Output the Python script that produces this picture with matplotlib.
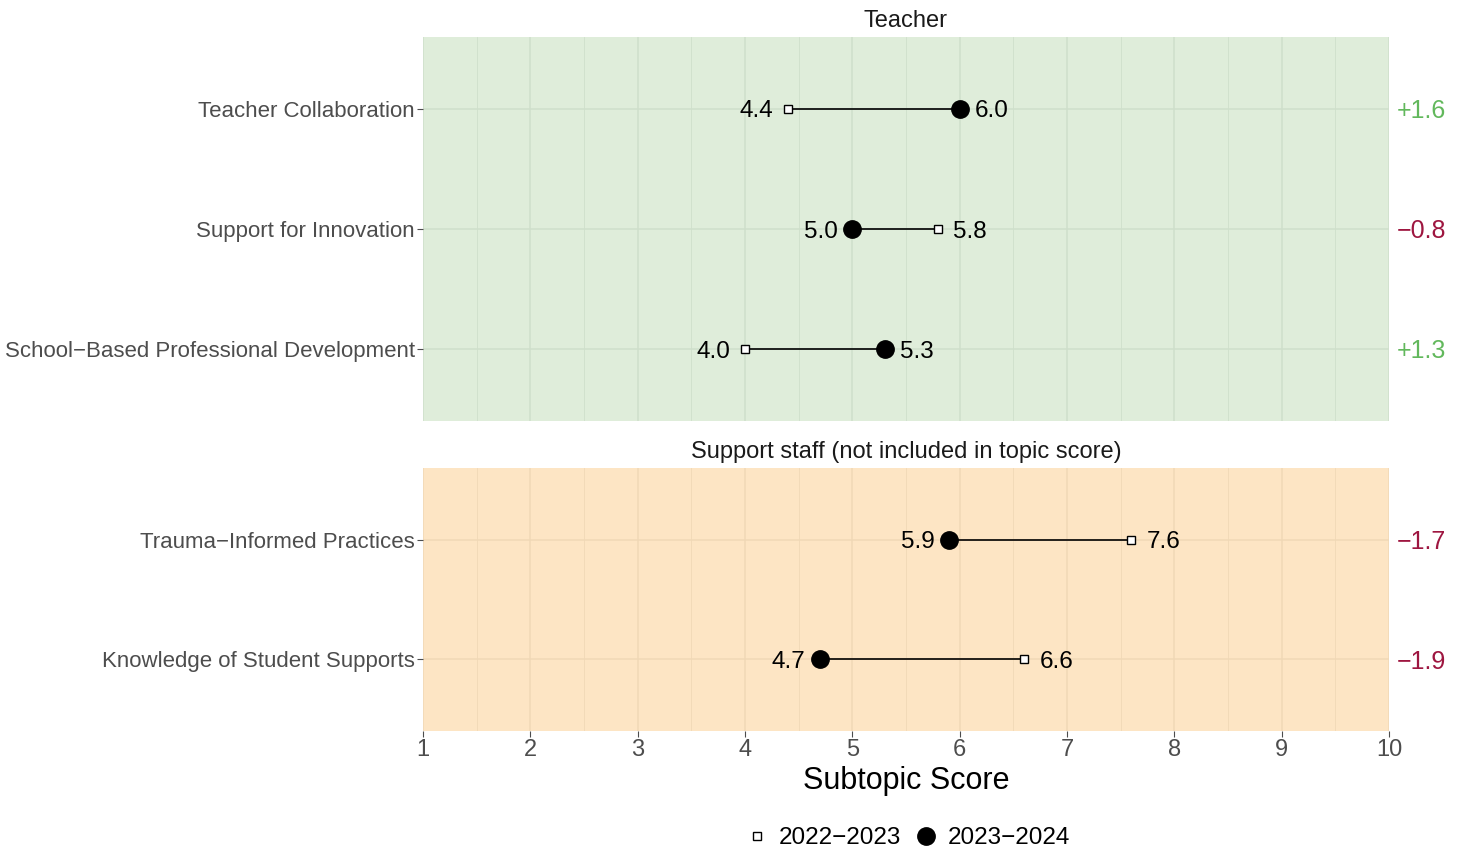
import matplotlib.pyplot as plt
from matplotlib.lines import Line2D

plt.rcParams['font.family'] = ['Liberation Sans', 'DejaVu Sans']

# data
teacher_items = ['Teacher Collaboration', 'Support for Innovation',
                 'School\u2212Based Professional Development']
teacher_prev = [4.4, 5.8, 4.0]
teacher_curr = [6.0, 5.0, 5.3]

staff_items = ['Trauma\u2212Informed Practices', 'Knowledge of Student Supports']
staff_prev = [7.6, 6.6]
staff_curr = [5.9, 4.7]

panel_titles = ['Teacher', 'Support staff (not included in topic score)']
legend_labels = ['2022\u22122023', '2023\u22122024']

green_bg = '#dfedda'
orange_bg = '#fde5c4'
green_txt = '#62b85c'
red_txt = '#9e1640'

fig = plt.figure(figsize=(14.63, 8.52), dpi=100)
L, R = 423 / 1463, 1389 / 1463
ax1 = fig.add_axes([L, 1 - 421 / 852, R - L, (421 - 37) / 852])
ax2 = fig.add_axes([L, 1 - 731 / 852, R - L, (731 - 468) / 852])


def draw_panel(ax, items, prev, curr, bg, gridc, title, show_x):
    n = len(items)
    ys = list(range(n, 0, -1))
    ax.set_facecolor(bg)
    ax.set_xlim(1, 10)
    ax.set_ylim(0.4, n + 0.6)
    ax.set_xticks(range(1, 11))
    ax.set_xticks([i + 0.5 for i in range(1, 10)], minor=True)
    ax.set_yticks(ys)
    ax.set_yticklabels(items, fontsize=16, color='#4d4d4d')
    ax.grid(True, which='major', color=gridc, lw=1.1, zorder=0)
    ax.grid(True, which='minor', axis='x', color=gridc, lw=0.6, zorder=0)
    ax.set_axisbelow(True)
    for s in ax.spines.values():
        s.set_visible(False)
    ax.tick_params(axis='y', length=4, color='#4d4d4d', width=0.8, pad=2)
    ax.tick_params(axis='x', which='minor', length=0)
    if show_x:
        ax.tick_params(axis='x', length=4, color='#4d4d4d', width=0.8,
                       labelsize=17, labelcolor='#4d4d4d', pad=2)
    else:
        ax.tick_params(axis='x', length=0, labelbottom=False)
    ax.set_title(title, fontsize=17, pad=7.5, color='#1a1a1a')
    for y, p, c in zip(ys, prev, curr):
        ax.plot([p, c], [y, y], color='black', lw=1.2, zorder=2)
        ax.plot(p, y, marker='s', ms=6, mfc='white', mec='black', mew=1,
                zorder=3, ls='none')
        ax.plot(c, y, marker='o', ms=12.5, color='black', zorder=3, ls='none')
        lo, hi = min(p, c), max(p, c)
        ax.annotate(f'{lo:.1f}', (lo, y), xytext=(-10.5, 0), textcoords='offset points',
                    ha='right', va='center_baseline', fontsize=17.5)
        ax.annotate(f'{hi:.1f}', (hi, y), xytext=(11, 0), textcoords='offset points',
                    ha='left', va='center_baseline', fontsize=17.5)
        d = c - p
        if d >= 0:
            txt, col = f'+{d:.1f}', green_txt
        else:
            txt, col = f'\u2212{abs(d):.1f}', red_txt
        ax.annotate(txt, (1, y), xycoords=('axes fraction', 'data'),
                    xytext=(5.5, 0), textcoords='offset points',
                    ha='left', va='center_baseline', fontsize=18, color=col)


draw_panel(ax1, teacher_items, teacher_prev, teacher_curr, green_bg, '#cfdfcb',
           panel_titles[0], False)
draw_panel(ax2, staff_items, staff_prev, staff_curr, orange_bg, '#f0d8b6',
           panel_titles[1], True)
ax2.set_xlabel('Subtopic Score', fontsize=22, labelpad=3)

handles = [Line2D([], [], marker='s', ms=6, mfc='white', mec='black', ls='none'),
           Line2D([], [], marker='o', ms=12.5, color='black', ls='none')]
fig.legend(handles, legend_labels, loc='center', bbox_to_anchor=(0.6195, 0.016),
           ncol=2, frameon=False, fontsize=17.5, handletextpad=0.3,
           columnspacing=0.4, handlelength=1.2)

fig.savefig('out.png', dpi=100)
